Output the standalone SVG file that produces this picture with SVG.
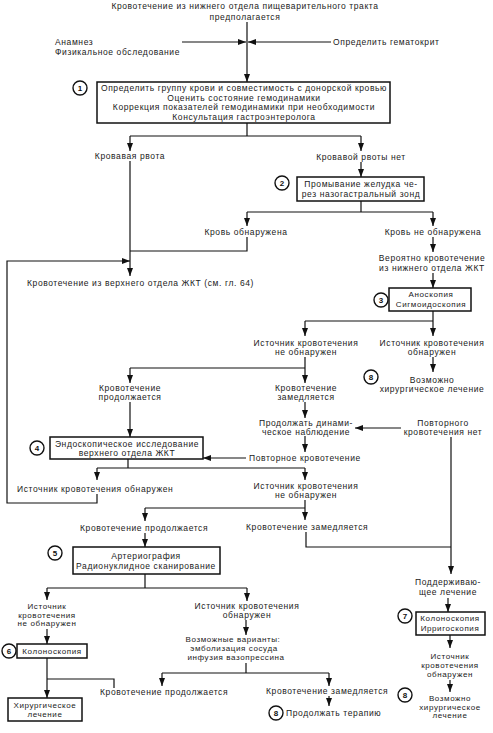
<svg xmlns="http://www.w3.org/2000/svg" width="493" height="733" viewBox="0 0 493 733">
<defs>
<marker id="ah" markerUnits="userSpaceOnUse" markerWidth="8" markerHeight="6" refX="8" refY="3" orient="auto">
<path d="M0,0 L8,3 L0,6 z" fill="#111"/>
</marker>
<style>
.t{font-family:"Liberation Sans",Arial,sans-serif;font-size:8.5px;fill:#1a1a1a;text-anchor:middle;letter-spacing:0.6px}
.s{text-anchor:start}
.k{font-size:8px}
.b{fill:#fff;stroke:#111;stroke-width:1.5}
.c{fill:#fff;stroke:#111;stroke-width:1.4}
.n{font-family:"Liberation Sans",Arial,sans-serif;font-size:8px;font-weight:bold;fill:#111;text-anchor:middle}
.l{fill:none;stroke:#111;stroke-width:1.2}
.a{fill:none;stroke:#111;stroke-width:1.2;marker-end:url(#ah)}
</style>
</defs>
<rect width="493" height="733" fill="#fff"/>

<g id="connectors">
<path class="a" d="M247,22 V82"/>
<path class="a" d="M182,42 H246"/>
<path class="a" d="M331,42 H248"/>
<path class="l" d="M247,123 V136 M130,136 H361"/>
<path class="a" d="M130,136 V151"/>
<path class="a" d="M361,136 V151"/>
<path class="a" d="M361,162 V177"/>
<path class="a" d="M130,161 V276"/>
<path class="l" d="M361,201 V212 M247,212 H433"/>
<path class="a" d="M247,212 V226"/>
<path class="a" d="M433,212 V226"/>
<path class="l" d="M247,237 V251 H130"/>
<path class="a" d="M433,237 V252"/>
<path class="a" d="M433,273 V288"/>
<path class="l" d="M433,311 V321 M305,321 H433"/>
<path class="a" d="M305,321 V336"/>
<path class="a" d="M433,321 V336"/>
<path class="l" d="M305,357 V368 M130,368 H305"/>
<path class="a" d="M130,368 V383"/>
<path class="a" d="M305,368 V383"/>
<path class="a" d="M433,357 V372"/>
<path class="a" d="M130,402 V437"/>
<path class="a" d="M305,402 V418"/>
<path class="a" d="M401,428 H355"/>
<path class="a" d="M305,436 V452"/>
<path class="a" d="M246,458 H203"/>
<path class="l" d="M128,459 V468 M97,468 H305"/>
<path class="a" d="M97,468 V480"/>
<path class="a" d="M305,468 V480"/>
<path class="a" d="M97,494 V503 H7 V261 H130"/>
<path class="l" d="M305,500 V508 M145,508 H305"/>
<path class="a" d="M145,508 V521"/>
<path class="a" d="M305,508 V520"/>
<path class="l" d="M306,532 V547 H451"/>
<path class="a" d="M451,437 V574"/>
<path class="a" d="M145,533 V547"/>
<path class="l" d="M145,574 V588 M47,588 H247"/>
<path class="a" d="M47,588 V600"/>
<path class="a" d="M247,588 V601"/>
<path class="a" d="M47,629 V644"/>
<path class="a" d="M246,620 V635"/>
<path class="l" d="M246,663 V673 M162,673 H329"/>
<path class="a" d="M162,673 V686"/>
<path class="a" d="M329,673 V686"/>
<path class="a" d="M47,658 V698"/>
<path class="l" d="M114,688 V679 H47"/>
<path class="a" d="M329,696 V706"/>
<path class="a" d="M448,598 V612"/>
<path class="a" d="M450,635 V648"/>
<path class="a" d="M450,680 V692"/>
</g>

<g id="start">
<text class="t" x="245" y="9">Кровотечение из нижнего отдела пищеварительного тракта</text>
<text class="t" x="245" y="20">предполагается</text>
</g>
<g id="anamnesis">
<text class="t s" x="55" y="45">Анамнез</text>
<text class="t s" x="55" y="55">Физикальное обследование</text>
</g>
<g id="hematocrit">
<text class="t s" x="333" y="45">Определить гематокрит</text>
</g>

<g id="step1">
<circle class="c" cx="80" cy="88" r="7"/>
<text class="n" x="80" y="91">1</text>
<rect class="b" x="97" y="82" width="293" height="41"/>
<text class="t" x="244" y="91">Определить группу крови и совместимость с донорской кровью</text>
<text class="t" x="244" y="100.5">Оценить состояние гемодинамики</text>
<text class="t" x="244" y="110">Коррекция показателей гемодинамики при необходимости</text>
<text class="t" x="244" y="119.5">Консультация гастроэнтеролога</text>
</g>

<g id="vomit"><text class="t" x="130" y="159">Кровавая рвота</text></g>
<g id="novomit"><text class="t" x="361" y="160">Кровавой рвоты нет</text></g>

<g id="step2">
<circle class="c" cx="282" cy="183" r="7"/>
<text class="n" x="282" y="186">2</text>
<rect class="b" x="297" y="177" width="127" height="24"/>
<text class="t" x="361" y="187">Промывание желудка че-</text>
<text class="t" x="361" y="197">рез назогастральный зонд</text>
</g>

<g id="bloodfound"><text class="t" x="246" y="235">Кровь обнаружена</text></g>
<g id="bloodnotfound"><text class="t" x="433" y="235">Кровь не обнаружена</text></g>

<g id="upper"><text class="t s" x="27" y="286">Кровотечение из верхнего отдела ЖКТ (см. гл. 64)</text></g>

<g id="probablylower">
<text class="t" x="432" y="261">Вероятно кровотечение</text>
<text class="t" x="432" y="271">из нижнего отдела ЖКТ</text>
</g>

<g id="step3">
<circle class="c" cx="381" cy="300" r="7"/>
<text class="n" x="381" y="303">3</text>
<rect class="b" x="389" y="288" width="82" height="23"/>
<text class="t k" x="431" y="297">Аноскопия</text>
<text class="t k" x="431" y="306.5">Сигмоидоскопия</text>
</g>

<g id="src3no">
<text class="t" x="306" y="346">Источник кровотечения</text>
<text class="t" x="306" y="355">не обнаружен</text>
</g>
<g id="src3yes">
<text class="t" x="432" y="346">Источник кровотечения</text>
<text class="t" x="432" y="355">обнаружен</text>
</g>

<g id="continues1">
<text class="t" x="130" y="391">Кровотечение</text>
<text class="t" x="130" y="400">продолжается</text>
</g>
<g id="slows1">
<text class="t" x="306" y="391">Кровотечение</text>
<text class="t" x="306" y="400">замедляется</text>
</g>

<g id="surgery1">
<circle class="c" cx="371" cy="377" r="7"/>
<text class="n" x="371" y="380">8</text>
<text class="t" x="432" y="383">Возможно</text>
<text class="t" x="432" y="392">хирургическое лечение</text>
</g>

<g id="observe">
<text class="t" x="306" y="426">Продолжать динами-</text>
<text class="t" x="306" y="435">ческое наблюдение</text>
</g>
<g id="norebleed">
<text class="t" x="443" y="426">Повторного</text>
<text class="t" x="443" y="435">кровотечения нет</text>
</g>

<g id="step4">
<circle class="c" cx="37" cy="448" r="7"/>
<text class="n" x="37" y="451">4</text>
<rect class="b" x="50" y="437" width="153" height="22"/>
<text class="t" x="127" y="446.5">Эндоскопическое исследование</text>
<text class="t" x="127" y="456">верхнего отдела ЖКТ</text>
</g>

<g id="rebleed"><text class="t s" x="249" y="461">Повторное кровотечение</text></g>

<g id="src4yes"><text class="t s" x="17" y="492">Источник кровотечения обнаружен</text></g>
<g id="src4no">
<text class="t" x="306" y="489">Источник кровотечения</text>
<text class="t" x="306" y="498">не обнаружен</text>
</g>

<g id="continues2"><text class="t s" x="80" y="531">Кровотечение продолжается</text></g>
<g id="slows2"><text class="t s" x="246" y="530">Кровотечение замедляется</text></g>

<g id="step5">
<circle class="c" cx="55" cy="553" r="7"/>
<text class="n" x="55" y="556">5</text>
<rect class="b" x="73" y="547" width="147" height="27"/>
<text class="t" x="146" y="559">Артериография</text>
<text class="t" x="146" y="569">Радионуклидное сканирование</text>
</g>

<g id="support">
<text class="t" x="448" y="585">Поддерживаю-</text>
<text class="t" x="448" y="595">щее лечение</text>
</g>

<g id="src5no">
<text class="t k" x="47" y="609">Источник</text>
<text class="t k" x="47" y="617.5">кровотечения</text>
<text class="t k" x="47" y="626">не обнаружен</text>
</g>
<g id="src5yes">
<text class="t" x="247" y="609">Источник кровотечения</text>
<text class="t" x="247" y="618">обнаружен</text>
</g>

<g id="options">
<text class="t k" x="233" y="642">Возможные варианты:</text>
<text class="t k" x="234" y="651">эмболизация сосуда</text>
<text class="t k" x="236" y="660">инфузия вазопрессина</text>
</g>

<g id="step6">
<circle class="c" cx="9" cy="651" r="7"/>
<text class="n" x="9" y="654">6</text>
<rect class="b" x="17" y="644" width="70" height="14"/>
<text class="t k" x="52" y="654">Колоноскопия</text>
</g>

<g id="surgery2">
<rect class="b" x="8" y="698" width="74" height="23"/>
<text class="t k" x="45" y="707.5">Хирургическое</text>
<text class="t k" x="45" y="717">лечение</text>
</g>

<g id="continues3"><text class="t s" x="100" y="695">Кровотечение продолжается</text></g>
<g id="slows3"><text class="t s" x="266" y="694">Кровотечение замедляется</text></g>

<g id="therapy">
<circle class="c" cx="276" cy="713" r="7"/>
<text class="n" x="276" y="716">8</text>
<text class="t s" x="286" y="716">Продолжать терапию</text>
</g>

<g id="step7">
<circle class="c" cx="405" cy="616" r="7"/>
<text class="n" x="405" y="619">7</text>
<rect class="b" x="416" y="612" width="69" height="23"/>
<text class="t k" x="450" y="621">Колоноскопия</text>
<text class="t k" x="450" y="631">Ирригоскопия</text>
</g>

<g id="src7yes">
<text class="t k" x="450" y="659">Источник</text>
<text class="t k" x="450" y="668">кровотечения</text>
<text class="t k" x="450" y="677">обнаружен</text>
</g>

<g id="surgery3">
<circle class="c" cx="405" cy="695" r="7"/>
<text class="n" x="405" y="698">8</text>
<text class="t k" x="450" y="701">Возможно</text>
<text class="t k" x="450" y="709.5">хирургическое</text>
<text class="t k" x="450" y="718">лечение</text>
</g>
</svg>
